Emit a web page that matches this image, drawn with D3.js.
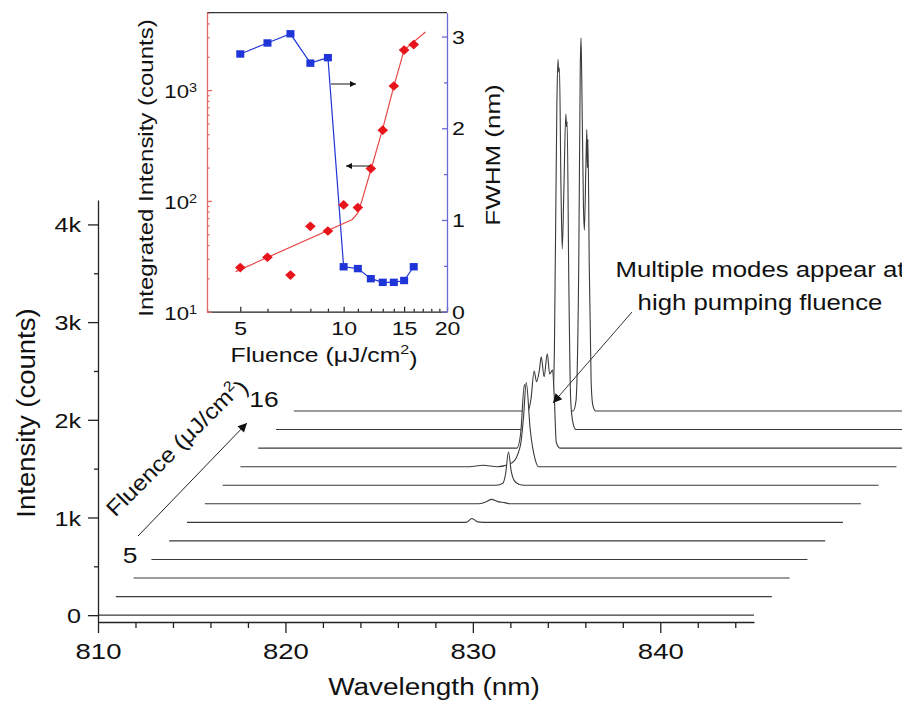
<!DOCTYPE html>
<html>
<head>
<meta charset="utf-8">
<script src="https://cdn.jsdelivr.net/npm/d3@7"></script>
<style>
body { margin: 0; background: #fff; }
svg { display: block; font-family: "Liberation Sans", Arial, sans-serif; }
</style>
</head>
<body>
<script>
// pumping fluence of each spectrum (uJ/cm2), front (bottom) to back (top)
var fluence = [5, 6, 7, 8, 9, 10, 11, 12, 13, 14, 15, 16];

// inset: integrated intensity (counts, log) and FWHM (nm)
var intensity = [25, 31, 21.4, 59, 53.5, 92, 87, 196, 435, 1090, 2300, 2580];
var fwhm = [2.81, 2.93, 3.03, 2.71, 2.77, 0.49, 0.47, 0.36, 0.32, 0.32, 0.34, 0.49];
// fitted curve through the intensity points
var fitFluence = [4.85, 10.6, 11.0, 11.3, 12, 13, 14, 15, 17.3];
var fitIntensity = [23, 68, 78, 100, 190, 450, 1080, 2300, 3350];

// spectra: [wavelength (nm), counts], flat baseline elsewhere
var spectrumRange = [810, 845];
var spectra = [
  [],
  [],
  [],
  [],
  [],
  [[824.9, 0], [825.2, 40], [825.5, 5], [825.8, 0]],
  [[824.6, 0], [825.0, 20], [825.3, 45], [825.6, 25], [826.0, 12], [826.3, 0]],
  [[824.6, 0], [824.95, 20], [825.1, 120], [825.25, 340], [825.4, 140], [825.55, 50], [825.8, 10], [826.1, 0]],
  [[822.2, 0], [822.95, 15], [823.7, 0], [824.5, 40], [824.93, 210], [825.1, 500], [825.25, 860],
   [825.46, 380], [825.73, 70], [825.9, 0]],
  [[823.8, 0], [824.0, 150], [824.2, 650], [824.4, 380], [824.55, 500], [824.72, 790], [824.85, 680],
   [825.0, 800], [825.1, 935], [825.25, 730], [825.42, 965], [825.55, 760], [825.7, 800], [825.8, 500],
   [825.9, 60], [826.1, 0]],
  [[824.5, 0], [824.7, 60], [824.85, 800], [824.98, 3300], [825.04, 3790], [825.08, 3660], [825.12, 3700],
   [825.2, 2500], [825.27, 1850], [825.35, 2400], [825.46, 3230], [825.5, 3100], [825.53, 3150],
   [825.62, 1500], [825.72, 300], [825.85, 60], [826.0, 0]],
  [[824.9, 0], [825.05, 100], [825.2, 1500], [825.28, 3500], [825.32, 3820], [825.36, 3400], [825.45, 2100],
   [825.5, 1850], [825.58, 2500], [825.63, 2880], [825.66, 2490], [825.69, 2780], [825.76, 1500],
   [825.86, 300], [825.95, 60], [826.1, 0]]
];
// waterfall offsets between successive spectra
var shiftNm = 0.95, shiftCounts = 190;

// tick labels
var wlTicks = [810, 820, 830, 840];
var countTicks = [0, 1000, 2000, 3000, 4000];
var countLabels = ['0', '1k', '2k', '3k', '4k'];
var insetFluenceTicks = [5, 10, 15, 20];
var insetLogTicks = [10, 100, 1000];
var fwhmTicks = [0, 1, 2, 3];

var svg = d3.select('body').append('svg').attr('width', 902).attr('height', 702);

var defs = svg.append('defs');
function marker(id, w, h) {
  defs.append('marker')
    .attr('id', id)
    .attr('viewBox', '0 0 10 10')
    .attr('refX', 10).attr('refY', 5)
    .attr('markerUnits', 'userSpaceOnUse')
    .attr('markerWidth', w).attr('markerHeight', h)
    .attr('orient', 'auto')
    .append('path').attr('d', 'M0,0L10,5L0,10z').attr('fill', '#111');
}
marker('head', 13, 9);
marker('headSmall', 9, 6);

// text with a horizontal stretch (the source font is wider than Arial)
function label(g, x, y, s, size, sx, anchor, rot) {
  return g.append('text')
    .attr('transform', 'translate(' + x + ',' + y + ') rotate(' + (rot || 0) + ') scale(' + sx + ',1)')
    .attr('font-size', size)
    .attr('text-anchor', anchor || 'start')
    .attr('fill', '#111')
    .text(s);
}

/** main waterfall plot **/
var x = d3.scaleLinear().domain([810, 845]).range([98, 754]);
var y = d3.scaleLinear().domain([-70, 4250]).range([622, 200]);

var traces = svg.append('g');
for (var i = fluence.length - 1; i >= 0; i--) {
  var pts = [[spectrumRange[0], 0]].concat(spectra[i], [[spectrumRange[1], 0]]);
  var dx = i * shiftNm, dy = i * shiftCounts;
  var area = d3.area()
    .x(function (d) { return x(d[0] + dx); })
    .y0(y(dy))
    .y1(function (d) { return y(d[1] + dy); })
    .curve(d3.curveMonotoneX);
  var line = d3.line()
    .x(function (d) { return x(d[0] + dx); })
    .y(function (d) { return y(d[1] + dy); })
    .curve(d3.curveMonotoneX);
  traces.append('path').attr('d', area(pts)).attr('fill', '#fff');
  traces.append('path').attr('d', line(pts))
    .attr('fill', 'none').attr('stroke', '#3a3a3a').attr('stroke-width', 1.1);
}

// y axis
var yMinor = svg.append('g').attr('transform', 'translate(98,0)')
  .call(d3.axisLeft(y).tickValues([500, 1500, 2500, 3500]).tickSize(4).tickFormat(''));
yMinor.select('.domain').remove();
var yAxis = svg.append('g').attr('transform', 'translate(98,0)')
  .call(d3.axisLeft(y).tickValues(countTicks).tickSizeInner(10).tickSizeOuter(0)
    .tickFormat(function (d, k) { return countLabels[k]; }));
yAxis.selectAll('text')
  .attr('font-size', 21).attr('font-family', null).attr('fill', '#111')
  .attr('x', -17 / 1.2).attr('dy', '0.36em').attr('transform', 'scale(1.2,1)');

// x axis
var xMinor = svg.append('g').attr('transform', 'translate(0,' + y(-70) + ')')
  .call(d3.axisBottom(x).tickValues(d3.range(812, 845, 2).filter(function (d) { return d % 10; }))
    .tickSize(6).tickFormat(''));
xMinor.select('.domain').remove();
var xAxis = svg.append('g').attr('transform', 'translate(0,' + y(-70) + ')')
  .call(d3.axisBottom(x).tickValues(wlTicks).tickSizeInner(11).tickSizeOuter(0).tickFormat(d3.format('d')));
xAxis.selectAll('text')
  .attr('font-size', 22).attr('font-family', null).attr('fill', '#111')
  .attr('y', 21).attr('transform', 'scale(1.25,1)');
svg.selectAll('.domain, .tick line').attr('stroke', '#222').attr('stroke-width', 1.3);

label(svg, 434, 695, 'Wavelength (nm)', 23.5, 1.19, 'middle');
label(svg, 35, 413, 'Intensity (counts)', 25, 1.1, 'middle', -90);

// fluence arrow and labels
svg.append('line').attr('x1', 138).attr('y1', 536).attr('x2', 247).attr('y2', 423)
  .attr('stroke', '#222').attr('stroke-width', 1).attr('marker-end', 'url(#head)');
label(svg, 130, 563, fluence[0], 22, 1.2, 'middle');
label(svg, 264, 407, fluence[fluence.length - 1], 22, 1.2, 'middle');
var fl = label(svg, 181, 452, 'Fluence (\u03bcJ/cm', 22, 1.12, 'middle', -45);
fl.append('tspan').attr('dy', '-0.55em').attr('font-size', '0.65em').text('2');
fl.append('tspan').attr('dy', '0.55em').text(')');

// multimode annotation
label(svg, 760, 277, 'Multiple modes appear at', 23, 1.12, 'middle');
label(svg, 760, 310, 'high pumping fluence', 23, 1.12, 'middle');
svg.append('line').attr('x1', 632).attr('y1', 312).attr('x2', 553).attr('y2', 403)
  .attr('stroke', '#333').attr('stroke-width', 1).attr('marker-end', 'url(#head)');

/** inset **/
var inset = svg.append('g');
var ix = d3.scaleLog().domain([4, 20]).range([207, 447]);
var iyL = d3.scaleLog().domain([10, 5000]).range([311.7, 12.7]);
var iyR = d3.scaleLinear().domain([0, 3.26]).range([311.7, 12.7]);
var red = '#e8141c', redAxis = '#e06868', blue = '#1f35d8', blueAxis = '#6a6ad6';

inset.append('rect').attr('x', 207).attr('y', 12.7).attr('width', 240).attr('height', 299)
  .attr('fill', '#fff');

// blue FWHM series
inset.append('path')
  .attr('d', d3.line().x(function (d, k) { return ix(fluence[k]); })
    .y(function (d) { return iyR(d); })(fwhm))
  .attr('fill', 'none').attr('stroke', blue).attr('stroke-width', 1.2);
inset.selectAll('rect.sq').data(fwhm).enter().append('rect').attr('class', 'sq')
  .attr('x', function (d, k) { return ix(fluence[k]) - 4; })
  .attr('y', function (d) { return iyR(d) - 3.7; })
  .attr('width', 8).attr('height', 7.4).attr('fill', blue);

// red intensity series and fit
inset.append('path')
  .attr('d', d3.line().x(function (d, k) { return ix(fitFluence[k]); })
    .y(function (d) { return iyL(d); })(fitIntensity))
  .attr('fill', 'none').attr('stroke', '#e84848').attr('stroke-width', 1.2);
inset.selectAll('path.dm').data(intensity).enter().append('path').attr('class', 'dm')
  .attr('d', d3.symbol().type(d3.symbolDiamond2).size(60))
  .attr('transform', function (d, k) { return 'translate(' + ix(fluence[k]) + ',' + iyL(d) + ') scale(1.1,1)'; })
  .attr('fill', red);

// arrows pointing to the axes
inset.append('line').attr('x1', 331).attr('y1', 84).attr('x2', 356).attr('y2', 84)
  .attr('stroke', '#111').attr('stroke-width', 1).attr('marker-end', 'url(#headSmall)');
inset.append('line').attr('x1', 370).attr('y1', 166).attr('x2', 346).attr('y2', 166)
  .attr('stroke', '#111').attr('stroke-width', 1).attr('marker-end', 'url(#headSmall)');

// top frame
inset.append('line').attr('x1', 207).attr('x2', 447).attr('y1', 12.7).attr('y2', 12.7)
  .attr('stroke', '#333').attr('stroke-width', 1.2);

// inset x axis (ticks inside)
var ixMinor = inset.append('g').attr('transform', 'translate(0,311.7)')
  .call(d3.axisBottom(ix).tickValues([4, 6, 7, 8, 9, 11, 12, 13, 14, 16, 17, 18, 19]).tickSize(-3).tickFormat(''));
ixMinor.select('.domain').remove();
var ixAxis = inset.append('g').attr('transform', 'translate(0,311.7)')
  .call(d3.axisBottom(ix).tickValues(insetFluenceTicks).tickSizeInner(-5).tickSizeOuter(0).tickFormat(d3.format('d')));
ixAxis.selectAll('text').attr('font-size', 18.5).attr('font-family', null).attr('fill', '#111')
  .attr('y', 10).attr('transform', 'scale(1.25,1)');
inset.selectAll('.domain, .tick line').attr('stroke', '#222').attr('stroke-width', 1.2);

// inset left axis (log, red)
var logMinor = [];
[10, 100, 1000].forEach(function (b) {
  for (var m = 2; m <= 9; m++) if (b * m <= 5000) logMinor.push(b * m);
});
var iyLMinor = inset.append('g').attr('transform', 'translate(207,0)')
  .call(d3.axisLeft(iyL).tickValues(logMinor).tickSize(-2.5).tickFormat(''));
iyLMinor.select('.domain').remove();
var iyLAxis = inset.append('g').attr('transform', 'translate(207,0)')
  .call(d3.axisLeft(iyL).tickValues(insetLogTicks).tickSizeInner(-5).tickSizeOuter(0));
iyLAxis.selectAll('text').each(function (d) {
  var t = d3.select(this).text('');
  t.append('tspan').text('10');
  t.append('tspan').attr('dy', '-0.5em').attr('font-size', '0.65em').text(Math.round(Math.log10(d)));
}).attr('font-size', 18.5).attr('font-family', null).attr('fill', '#111')
  .attr('x', -10 / 1.2).attr('dy', '0.4em').attr('transform', 'scale(1.2,1)');
inset.selectAll('g').filter(function () { return this === iyLMinor.node() || this === iyLAxis.node(); })
  .selectAll('.domain, .tick line').attr('stroke', redAxis).attr('stroke-width', 1.3);

// inset right axis (linear, blue)
var iyRMinor = inset.append('g').attr('transform', 'translate(447,0)')
  .call(d3.axisRight(iyR).tickValues([0.5, 1.5, 2.5]).tickSize(-3).tickFormat(''));
iyRMinor.select('.domain').remove();
var iyRAxis = inset.append('g').attr('transform', 'translate(447,0)')
  .call(d3.axisRight(iyR).tickValues(fwhmTicks).tickSizeInner(-5).tickSizeOuter(0).tickFormat(d3.format('d')));
iyRAxis.selectAll('text').attr('font-size', 18.5).attr('font-family', null).attr('fill', '#111')
  .attr('x', 5 / 1.25).attr('dy', '0.36em').attr('transform', 'scale(1.25,1)');
iyRMinor.selectAll('.tick line').attr('stroke', blueAxis).attr('stroke-width', 1.3);
iyRAxis.selectAll('.domain, .tick line').attr('stroke', blueAxis).attr('stroke-width', 1.3);

// inset titles
var ixt = label(inset, 324, 362, 'Fluence (\u03bcJ/cm', 21, 1.18, 'middle');
ixt.append('tspan').attr('dy', '-0.55em').attr('font-size', '0.65em').text('2');
ixt.append('tspan').attr('dy', '0.55em').text(')');
label(inset, 153, 168, 'Integrated Intensity (counts)', 20, 1.2, 'middle', -90);
label(svg, 500, 155, 'FWHM (nm)', 20, 1.3, 'middle', -90);
</script>
</body>
</html>
